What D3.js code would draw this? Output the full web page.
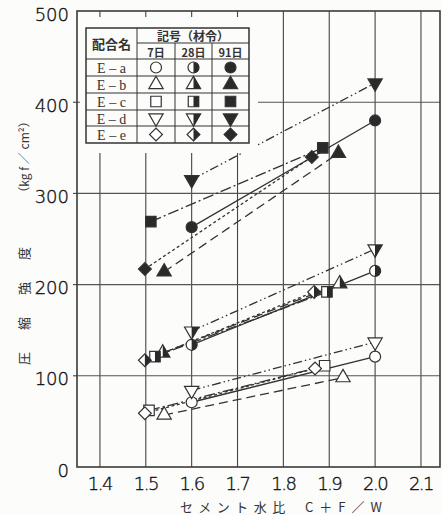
<!DOCTYPE html>
<html>
<head>
<meta charset="utf-8">
<script src="https://cdn.jsdelivr.net/npm/d3@7"></script>
<style>
  body { margin: 0; background: #fcfcfa; }
  .grid-line { stroke: #444; stroke-width: 1.1; }
  .frame { fill: none; stroke: #3a3a3a; stroke-width: 1.6; }
  .tick-label { font-family: "DejaVu Sans", sans-serif; font-weight: 200; font-size: 18px; fill: #111; stroke: #111; stroke-width: 0.35; }
  .jp { font-family: "Noto Sans CJK JP", sans-serif; fill: #333; }
  .data-line { fill: none; stroke: #333; stroke-width: 1.3; }
  .marker { stroke: #333; stroke-width: 1.2; }
</style>
</head>
<body>
<div id="wrapper"></div>
<script>

// data
const mixNames = ["E－a", "E－b", "E－c", "E－d", "E－e"]
const ageNames = ["7日", "28日", "91日"]
const xTicks = [1.4, 1.5, 1.6, 1.7, 1.8, 1.9, 2.0, 2.1]
const yTicks = [0, 100, 200, 300, 400, 500]

// [cement-water ratio, compressive strength] pairs for each mix and age
const ea7 = [[1.60, 71], [2.00, 121]]
const ea28 = [[1.60, 134], [2.00, 215]]
const ea91 = [[1.60, 263], [2.00, 380]]
const eb7 = [[1.54, 57], [1.93, 98]]
const eb28 = [[1.537, 125], [1.923, 201]]
const eb91 = [[1.54, 214], [1.92, 344]]
const ec7 = [[1.507, 62], [1.89, 111]]
const ec28 = [[1.52, 121], [1.895, 192]]
const ec91 = [[1.511, 269], [1.886, 350]]
const ed7 = [[1.60, 84], [2.00, 137]]
const ed28 = [[1.60, 149], [2.00, 239]]
const ed91 = [[1.60, 315], [2.00, 421]]
const ee7 = [[1.498, 59], [1.869, 108]]
const ee28 = [[1.498, 117], [1.867, 192]]
const ee91 = [[1.498, 217], [1.862, 340]]

const mixData = [
  [ea7, ea28, ea91],
  [eb7, eb28, eb91],
  [ec7, ec28, ec91],
  [ed7, ed28, ed91],
  [ee7, ee28, ee91],
]

function drawChart() {

  // 1. Dimensions

  const dimensions = {
    width: 442,
    height: 515,
    margin: { top: 11, right: 2, bottom: 48, left: 77 },
  }
  dimensions.boundedWidth = dimensions.width - dimensions.margin.left - dimensions.margin.right
  dimensions.boundedHeight = dimensions.height - dimensions.margin.top - dimensions.margin.bottom

  // 2. Canvas

  const wrapper = d3.select("#wrapper")
    .append("svg")
      .attr("width", dimensions.width)
      .attr("height", dimensions.height)

  const defs = wrapper.append("defs")
  defs.append("clipPath")
      .attr("id", "right-half")
    .append("rect")
      .attr("x", 0)
      .attr("y", -20)
      .attr("width", 20)
      .attr("height", 40)

  const bounds = wrapper.append("g")
      .attr("transform", `translate(${dimensions.margin.left}, ${dimensions.margin.top})`)

  // 3. Scales

  const xScale = d3.scaleLinear()
      .domain([1.35, 2.1415])
      .range([0, dimensions.boundedWidth])

  const yScale = d3.scaleLinear()
      .domain([0, 500])
      .range([dimensions.boundedHeight, 0])

  // 4. Peripherals

  const peripherals = bounds.append("g")

  xTicks.forEach(d => {
    peripherals.append("line")
      .attr("class", "grid-line")
      .attr("x1", xScale(d))
      .attr("x2", xScale(d))
      .attr("y1", 0)
      .attr("y2", dimensions.boundedHeight)
  })

  yTicks.slice(1, -1).forEach(d => {
    peripherals.append("line")
      .attr("class", "grid-line")
      .style("stroke", "#555")
      .attr("x1", 0)
      .attr("x2", dimensions.boundedWidth)
      .attr("y1", yScale(d))
      .attr("y2", yScale(d))
  })

  // short outward ticks on the left frame
  yTicks.slice(1, -1).forEach(d => {
    peripherals.append("line")
      .attr("class", "grid-line")
      .attr("x1", -4)
      .attr("x2", 0)
      .attr("y1", yScale(d))
      .attr("y2", yScale(d))
  })

  peripherals.append("rect")
      .attr("class", "frame")
      .attr("width", dimensions.boundedWidth)
      .attr("height", dimensions.boundedHeight)

  yTicks.forEach(d => {
    wrapper.append("text")
      .attr("class", "tick-label")
      .attr("x", dimensions.margin.left - 8)
      .attr("y", dimensions.margin.top + yScale(d) + 3)
      .attr("text-anchor", "end")
      .attr("dominant-baseline", "central")
      .text(d)
  })

  xTicks.forEach(d => {
    wrapper.append("text")
      .attr("class", "tick-label")
      .attr("x", dimensions.margin.left + xScale(d))
      .attr("y", dimensions.margin.top + dimensions.boundedHeight + 16)
      .attr("text-anchor", "middle")
      .attr("dominant-baseline", "central")
      .style("letter-spacing", "-1.5px")
      .text(d3.format(".1f")(d))
  })

  wrapper.append("text")
      .attr("class", "jp")
      .attr("x", 180)
      .attr("y", 506)
      .attr("dominant-baseline", "central")
      .style("font-size", "13px")
      .style("letter-spacing", "5.5px")
      .text("セメント水比")
  wrapper.append("text")
      .attr("class", "jp")
      .attr("x", 305)
      .attr("y", 506)
      .attr("dominant-baseline", "central")
      .style("font-size", "13px")
      .style("letter-spacing", "6px")
      .text("C＋F／W")

  wrapper.append("text")
      .attr("class", "jp")
      .attr("transform", "translate(23, 365) rotate(-90)")
      .attr("dominant-baseline", "central")
      .style("font-size", "13px")
      .style("letter-spacing", "22px")
      .text("圧縮強度")
  wrapper.append("text")
      .attr("class", "jp")
      .attr("transform", "translate(23, 157) rotate(-90)")
      .attr("text-anchor", "middle")
      .attr("dominant-baseline", "central")
      .style("font-size", "12px")
      .text("（kg f ／ cm²）")

  // 5. Marker helpers

  const symbolTypes = [d3.symbolCircle, d3.symbolTriangle, d3.symbolSquare, d3.symbolTriangle, d3.symbolSquare]
  const symbolSizes = [95, 88, 110, 88, 82]
  const symbolRotations = [0, 0, 0, 180, 45]
  const dashes = ["none", "9,5", "11,3,2,3", "9,3,1.5,3,1.5,3", "3,2.5"]

  const drawMarker = (parent, mixIndex, ageIndex, x, y, scale = 1) => {
    const g = parent.append("g")
        .attr("transform", `translate(${x}, ${y})`)
    const path = d3.symbol()
        .type(symbolTypes[mixIndex])
        .size(symbolSizes[mixIndex] * scale * scale)()
    const rotation = `rotate(${symbolRotations[mixIndex]})`
    g.append("path")
        .attr("class", "marker")
        .attr("d", path)
        .attr("transform", rotation)
        .attr("fill", ageIndex == 2 ? "#2a2a2a" : "#fff")
    if (ageIndex == 1) {
      g.append("g")
          .attr("clip-path", "url(#right-half)")
        .append("path")
          .attr("d", path)
          .attr("transform", rotation)
          .attr("fill", "#2a2a2a")
    }
  }

  // 6. Data

  const lineGenerator = d3.line()
      .x(d => xScale(d[0]))
      .y(d => yScale(d[1]))

  const lines = bounds.append("g")
  mixData.forEach((ages, i) => {
    ages.forEach(points => {
      lines.append("path")
        .attr("class", "data-line")
        .attr("d", lineGenerator(points))
        .style("stroke-dasharray", dashes[i])
    })
  })

  const markers = bounds.append("g")
  mixData.forEach((ages, i) => {
    ages.forEach((points, j) => {
      points.forEach(d => drawMarker(markers, i, j, xScale(d[0]), yScale(d[1])))
    })
  })

  // 7. Legend table

  const legend = wrapper.append("g")
  const colEdges = [86, 137, 175, 212, 249]
  const rowEdges = [28, 43, 59, 76, 93, 110, 126, 143]

  legend.append("rect")
      .attr("x", 80)
      .attr("y", 17)
      .attr("width", 178)
      .attr("height", 136)
      .attr("fill", "#fcfcfa")
  legend.append("rect")
      .attr("x", colEdges[0])
      .attr("y", rowEdges[0])
      .attr("width", colEdges[4] - colEdges[0])
      .attr("height", rowEdges[7] - rowEdges[0])
      .attr("fill", "#fcfcfa")
      .attr("stroke", "#333")
      .attr("stroke-width", 1.5)

  rowEdges.slice(2, -1).forEach(y => {
    legend.append("line")
      .attr("x1", colEdges[0]).attr("x2", colEdges[4])
      .attr("y1", y).attr("y2", y)
      .attr("stroke", "#333").attr("stroke-width", 1)
  })
  legend.append("line")
      .attr("x1", colEdges[1]).attr("x2", colEdges[4])
      .attr("y1", rowEdges[1]).attr("y2", rowEdges[1])
      .attr("stroke", "#333").attr("stroke-width", 1)
  colEdges.slice(1, -1).forEach((x, i) => {
    legend.append("line")
      .attr("x1", x).attr("x2", x)
      .attr("y1", i == 0 ? rowEdges[0] : rowEdges[1]).attr("y2", rowEdges[7])
      .attr("stroke", "#333").attr("stroke-width", 1)
  })

  legend.append("text")
      .attr("class", "jp")
      .attr("x", (colEdges[0] + colEdges[1]) / 2)
      .attr("y", (rowEdges[0] + rowEdges[2]) / 2)
      .attr("text-anchor", "middle")
      .attr("dominant-baseline", "central")
      .style("font-size", "13px")
      .style("font-weight", "bold")
      .text("配合名")
  legend.append("text")
      .attr("class", "jp")
      .attr("x", (colEdges[1] + colEdges[4]) / 2)
      .attr("y", (rowEdges[0] + rowEdges[1]) / 2)
      .attr("text-anchor", "middle")
      .attr("dominant-baseline", "central")
      .style("font-size", "12px")
      .style("font-weight", "bold")
      .text("記号（材令）")

  ageNames.forEach((name, j) => {
    legend.append("text")
      .attr("class", "jp")
      .attr("x", (colEdges[j + 1] + colEdges[j + 2]) / 2)
      .attr("y", (rowEdges[1] + rowEdges[2]) / 2 + 1)
      .attr("text-anchor", "middle")
      .attr("dominant-baseline", "central")
      .style("font-size", "11px")
      .style("font-weight", "bold")
      .text(name)
  })

  mixNames.forEach((name, i) => {
    const cy = (rowEdges[i + 2] + rowEdges[i + 3]) / 2
    legend.append("text")
      .attr("x", (colEdges[0] + colEdges[1]) / 2)
      .attr("y", cy + 1)
      .attr("text-anchor", "middle")
      .attr("dominant-baseline", "central")
      .style("font-family", "'Liberation Serif', serif")
      .style("font-size", "14px")
      .style("fill", "#333")
      .text(name.replace("－", " – "))
    ageNames.forEach((age, j) => {
      drawMarker(legend, i, j, (colEdges[j + 1] + colEdges[j + 2]) / 2, cy, 1)
    })
  })
}
drawChart()
</script>
</body>
</html>
